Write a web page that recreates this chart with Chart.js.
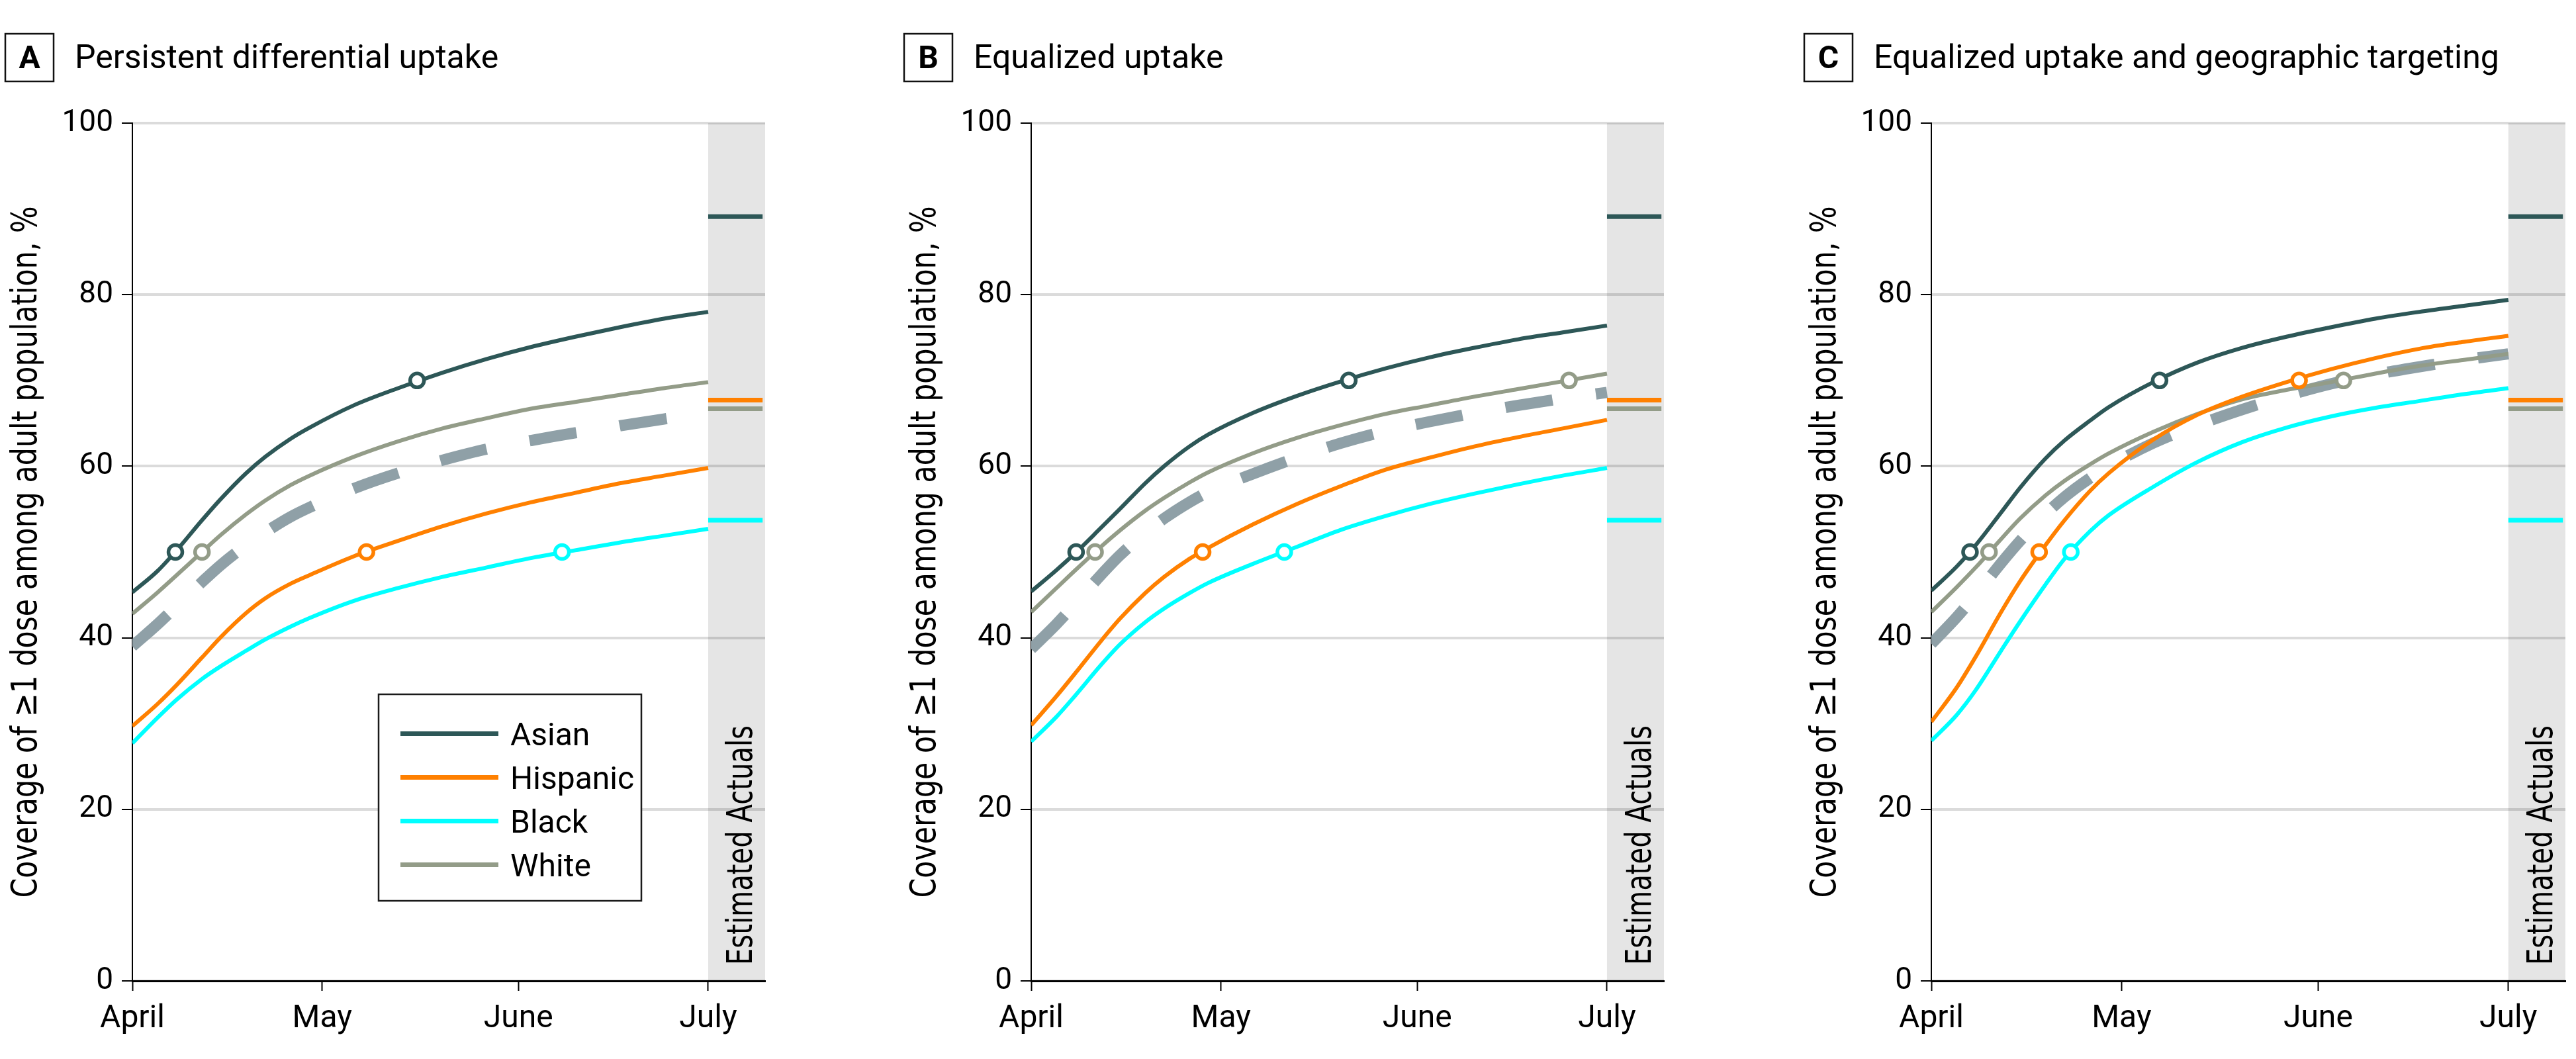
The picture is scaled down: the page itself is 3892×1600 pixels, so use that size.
<!DOCTYPE html>
<html>
<head>
<meta charset="utf-8">
<title>Vaccine coverage scenarios</title>
<script src="https://cdn.jsdelivr.net/npm/chart.js@4.4.1/dist/chart.umd.min.js"></script>
<style>
  html, body { margin: 0; padding: 0; background: #fff; }
  body { width: 3892px; height: 1600px; position: relative; overflow: hidden; }
  canvas { position: absolute; top: 0; display: block; }
</style>
</head>
<body>
<canvas id="chartA" width="1172" height="1600" style="left:0px"></canvas>
<canvas id="chartB" width="1172" height="1600" style="left:1358px"></canvas>
<canvas id="chartC" width="1174" height="1600" style="left:2718px"></canvas>
<script>
// days since April 1
const days = [0, 4, 7, 11, 14, 18, 21, 25, 28, 35, 42, 49, 56, 63, 70, 77, 84, 91];
const monthTicks = [0, 30, 61, 91];
const monthLabels = ['April', 'May', 'June', 'July'];
const groups = ['Asian', 'Hispanic', 'Black', 'White'];
const thresholds = [50, 70];
const actualStart = 91;
const actualEnd = 99.6;
const actuals = [89.1, 67.7, 53.7, 66.7]; // Asian, Hispanic, Black, White

const colors = { Asian: '#2d5757', Hispanic: '#ff8000', Black: '#00ffff', White: '#939c88' };
const overallColor = '#8fa0a7';

// A: persistent differential uptake
const aAsian    = [45.3, 47.8, 50.2, 53.7, 56.2, 59.2, 61.1, 63.2, 64.5, 67.1, 69.1, 70.9, 72.5, 73.9, 75.1, 76.2, 77.2, 78.0];
const aHispanic = [29.7, 32.3, 34.5, 37.7, 40.1, 42.9, 44.6, 46.3, 47.3, 49.5, 51.3, 53.0, 54.5, 55.8, 56.9, 58.0, 58.9, 59.8];
const aBlack    = [27.7, 30.7, 32.8, 35.2, 36.7, 38.5, 39.8, 41.3, 42.3, 44.3, 45.8, 47.1, 48.2, 49.3, 50.2, 51.1, 51.9, 52.7];
const aWhite    = [42.8, 45.3, 47.3, 50.0, 52.0, 54.4, 56.0, 57.8, 58.9, 61.1, 62.9, 64.4, 65.6, 66.7, 67.5, 68.3, 69.1, 69.8];
const aOverall  = [39.0, 41.6, 43.7, 46.5, 48.5, 50.8, 52.3, 54.1, 55.2, 57.4, 59.2, 60.7, 62.0, 63.0, 63.9, 64.7, 65.5, 66.3];
const aMarks = { Asian: [6.8, 45.0], Hispanic: [37.0], Black: [67.9], White: [11.0] };

// B: equalized uptake
const bAsian    = [45.4, 47.9, 49.9, 52.8, 55.0, 58.0, 60.0, 62.3, 63.7, 66.2, 68.2, 69.9, 71.4, 72.7, 73.8, 74.8, 75.6, 76.4];
const bHispanic = [29.8, 33.2, 35.9, 39.6, 42.2, 45.2, 47.1, 49.2, 50.5, 53.2, 55.6, 57.7, 59.6, 61.0, 62.3, 63.4, 64.4, 65.4];
const bBlack    = [27.9, 30.8, 33.3, 36.8, 39.2, 41.8, 43.4, 45.2, 46.4, 48.6, 50.6, 52.6, 54.2, 55.6, 56.8, 57.9, 58.9, 59.8];
const bWhite    = [43.0, 45.8, 47.9, 50.6, 52.5, 54.8, 56.3, 58.1, 59.3, 61.5, 63.3, 64.8, 66.1, 67.1, 68.1, 69.0, 69.9, 70.8];
const bOverall  = [38.7, 41.6, 44.0, 47.3, 49.6, 52.2, 53.9, 55.8, 57.0, 59.1, 61.0, 62.7, 64.1, 65.2, 66.2, 67.1, 67.9, 68.6];
const bMarks = { Asian: [7.1, 50.2], Hispanic: [27.1], Black: [40.0], White: [10.1, 85.0] };

// C: equalized uptake and geographic targeting
const cAsian    = [45.5, 48.3, 50.8, 54.6, 57.5, 60.9, 63.0, 65.3, 66.9, 69.8, 72.1, 73.8, 75.1, 76.2, 77.2, 78.0, 78.7, 79.4];
const cHispanic = [30.2, 34.2, 37.8, 43.0, 46.6, 50.8, 53.7, 57.1, 59.2, 63.1, 66.0, 68.1, 69.8, 71.3, 72.6, 73.7, 74.5, 75.2];
const cBlack    = [28.0, 31.0, 33.9, 38.5, 41.9, 46.2, 49.2, 52.4, 54.3, 57.6, 60.5, 62.8, 64.5, 65.8, 66.8, 67.6, 68.4, 69.1];
const cWhite    = [43.0, 45.9, 48.2, 51.5, 53.9, 56.6, 58.3, 60.2, 61.5, 64.0, 66.1, 67.8, 68.9, 69.8, 70.8, 71.7, 72.4, 73.1];
const cOverall  = [39.3, 42.4, 45.0, 48.7, 51.3, 54.4, 56.4, 58.6, 60.0, 62.7, 64.8, 66.6, 68.2, 69.6, 70.7, 71.6, 72.4, 73.1];
const cMarks = { Asian: [6.1, 36.0], Hispanic: [17.0, 58.0], Black: [22.0], White: [9.1, 65.0] };

const yTitle = 'Coverage of \u22651 dose among adult population, %';
const shadeLabel = 'Estimated Actuals';
const lineOrder = { Asian: 1, Hispanic: 2, White: 3, Black: 4 };

// rotated text, squeezed along its length to fit the reference
function squeezedText(ctx, text, bx, y, len, align) {
  ctx.save();
  ctx.font = '53px "DejaVu Sans"';
  const w = ctx.measureText(text).width;
  ctx.translate(bx, y);
  ctx.rotate(-Math.PI / 2);
  ctx.scale(len / w, 1);
  ctx.textAlign = align;
  ctx.textBaseline = 'alphabetic';
  ctx.fillStyle = '#000';
  ctx.fillText(text, 0, 0);
  ctx.restore();
}

const decor = {
  id: 'decor',
  beforeDraw(chart) {
    const { ctx, chartArea: a, scales: { x } } = chart;
    const x0 = x.getPixelForValue(actualStart);
    ctx.save();
    ctx.fillStyle = '#e5e5e5';
    ctx.fillRect(x0, a.top, a.right - x0, a.bottom - a.top);
    ctx.restore();
  },
  afterDraw(chart, args, opts) {
    const { ctx, chartArea: a, scales: { x } } = chart;
    ctx.save();
    // panel letter + title
    ctx.strokeStyle = '#111';
    ctx.lineWidth = 2.5;
    ctx.strokeRect(a.left - 192, 51, 73, 72);
    ctx.fillStyle = '#000';
    ctx.textBaseline = 'alphabetic';
    ctx.textAlign = 'center';
    ctx.font = 'bold 48px Roboto';
    ctx.fillText(opts.letter, a.left - 155.5, 103);
    ctx.textAlign = 'left';
    ctx.font = '50px Roboto';
    ctx.fillText(opts.title, a.left - 87, 103);
    ctx.restore();

    squeezedText(ctx, yTitle, a.left - 145, (a.top + a.bottom) / 2, 1045, 'center');
    squeezedText(ctx, shadeLabel, x.getPixelForValue(actualStart) + 66, a.bottom - 24, 362, 'left');

    if (opts.legend) {
      const lx = a.left + 372, ly = 1049;
      ctx.save();
      ctx.fillStyle = '#fff';
      ctx.fillRect(lx, ly, 397, 312);
      ctx.strokeStyle = '#1a1a1a';
      ctx.lineWidth = 2.5;
      ctx.strokeRect(lx, ly, 397, 312);
      groups.forEach((g, i) => {
        const ry = 1108.5 + i * 66;
        ctx.strokeStyle = colors[g];
        ctx.lineWidth = 7;
        ctx.beginPath();
        ctx.moveTo(a.left + 405, ry);
        ctx.lineTo(a.left + 553, ry);
        ctx.stroke();
        ctx.fillStyle = '#000';
        ctx.font = '48px Roboto';
        ctx.textAlign = 'left';
        ctx.textBaseline = 'alphabetic';
        ctx.fillText(g, a.left + 571, ry + 17);
      });
      ctx.restore();
    }
  }
};

function pts(vals) {
  return days.map((d, i) => ({ x: d, y: vals[i] }));
}

function makePanel(id, letter, title, series, overall, marks, legend, padRight) {
  const datasets = [{
    label: 'Overall',
    data: pts(overall),
    borderColor: overallColor,
    borderWidth: 17,
    borderDash: [72, 66],
    pointRadius: 0,
    cubicInterpolationMode: 'monotone',
    order: 6
  }];
  groups.forEach((g, gi) => {
    datasets.push({
      label: g,
      data: pts(series[g]),
      borderColor: colors[g],
      borderWidth: 6,
      pointRadius: 0,
      cubicInterpolationMode: 'monotone',
      order: lineOrder[g]
    });
    datasets.push({
      label: g + ' estimated actual',
      data: [{ x: actualStart, y: actuals[gi] }, { x: actualEnd, y: actuals[gi] }],
      borderColor: colors[g],
      borderWidth: 7,
      pointRadius: 0,
      order: 5
    });
    datasets.push({
      label: g + ' milestones',
      data: marks[g].map((d, k) => ({ x: d, y: thresholds[k] })),
      showLine: false,
      pointRadius: 10.5,
      pointBorderWidth: 5.5,
      pointBackgroundColor: '#fff',
      pointBorderColor: colors[g],
      order: 0
    });
  });

  new Chart(document.getElementById(id), {
    type: 'line',
    data: { datasets },
    options: {
      responsive: false,
      animation: false,
      events: [],
      layout: { padding: { left: 0, right: padRight, top: 186, bottom: 0 } },
      plugins: {
        legend: { display: false },
        tooltip: { enabled: false },
        decor: { letter, title, legend }
      },
      scales: {
        x: {
          type: 'linear',
          min: 0,
          max: 100,
          afterBuildTicks: s => { s.ticks = monthTicks.map(v => ({ value: v })); },
          afterFit: s => { s.height = 118; },
          ticks: {
            autoSkip: false,
            maxRotation: 0,
            padding: 14,
            color: '#000',
            font: { family: 'Roboto', size: 48 },
            callback: v => monthLabels[monthTicks.indexOf(v)]
          },
          grid: { drawOnChartArea: false, drawTicks: true, tickLength: 15, tickColor: '#000', tickWidth: 2 },
          border: { color: '#000', width: 3 }
        },
        y: {
          min: 0,
          max: 100,
          afterFit: s => { s.width = 200; },
          ticks: {
            stepSize: 20,
            padding: 13,
            color: '#000',
            font: { family: 'Roboto', size: 46 }
          },
          grid: { color: 'rgba(0,0,0,0.14)', lineWidth: 4, tickColor: '#000', tickLength: 16, tickWidth: 2 },
          border: { color: '#000', width: 2 }
        }
      }
    },
    plugins: [decor]
  });
}

makePanel('chartA', 'A', 'Persistent differential uptake',
  { Asian: aAsian, Hispanic: aHispanic, Black: aBlack, White: aWhite }, aOverall, aMarks, true, 1);
makePanel('chartB', 'B', 'Equalized uptake',
  { Asian: bAsian, Hispanic: bHispanic, Black: bBlack, White: bWhite }, bOverall, bMarks, false, 1);
makePanel('chartC', 'C', 'Equalized uptake and geographic targeting',
  { Asian: cAsian, Hispanic: cHispanic, Black: cBlack, White: cWhite }, cOverall, cMarks, false, 0);
</script>
</body>
</html>
